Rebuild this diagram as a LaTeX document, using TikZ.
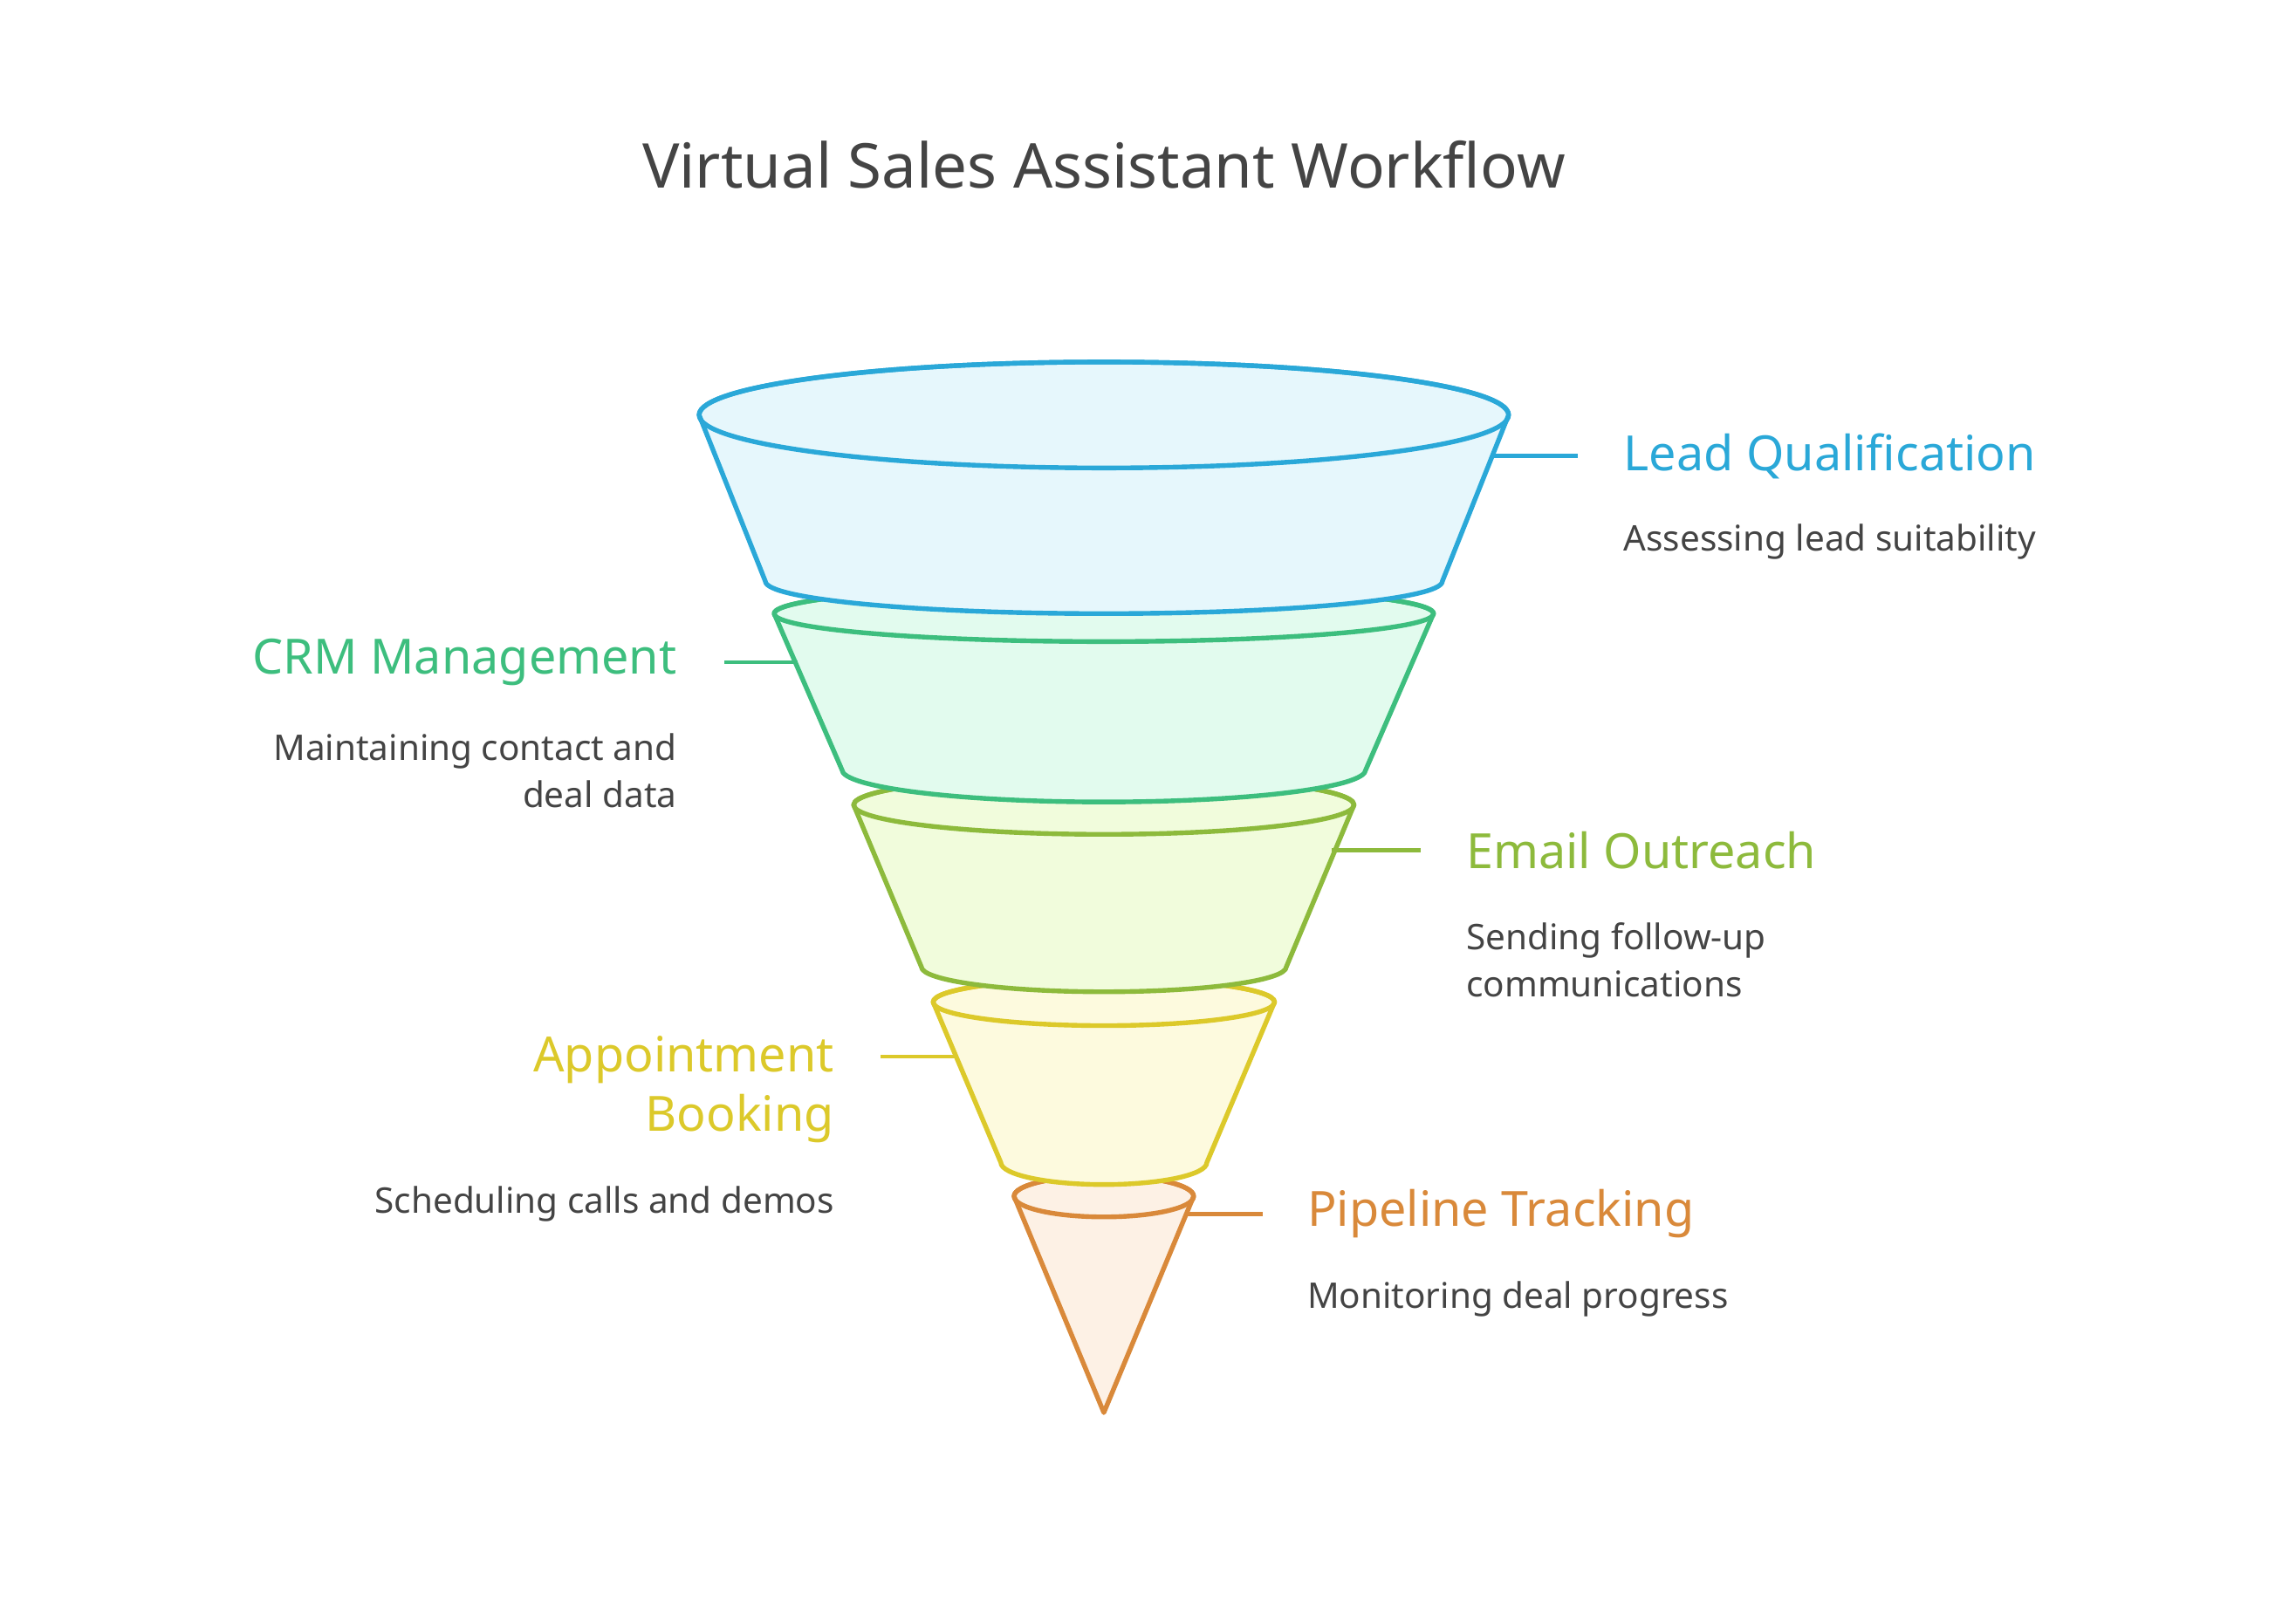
\documentclass[tikz,border=0pt]{standalone}
\usepackage{fontspec}
\setmainfont{Noto Sans}
\definecolor{c1}{HTML}{2AA8D8}\definecolor{f1}{HTML}{E6F7FC}
\definecolor{c2}{HTML}{3DBE7E}\definecolor{f2}{HTML}{E2FBEE}
\definecolor{c3}{HTML}{8DBA3C}\definecolor{f3}{HTML}{F1FCDC}
\definecolor{c4}{HTML}{DCC92A}\definecolor{f4}{HTML}{FDFADE}
\definecolor{c5}{HTML}{D9893A}\definecolor{f5}{HTML}{FDF1E5}
\definecolor{tx}{HTML}{444444}
\begin{document}
\begin{tikzpicture}[x=0.5pt,y=0.5pt,line width=1.6pt,line join=round,
  ttl/.style={font=\fontsize{16.5}{20}\selectfont},
  dsc/.style={font=\fontsize{12}{16}\selectfont,text=tx},
  conn/.style={line width=1.4pt}]
\useasboundingbox[fill=white] (0,0) rectangle (1560,-1088);
\node[font=\fontsize{21}{25}\selectfont\bfseries,text=tx] (title) at (750,-112) {Virtual Sales Assistant Workflow};
% segment 5
\filldraw[draw=c5,fill=f5] (689,-813) -- (750,-960) -- (811,-813) arc[start angle=0,end angle=180,x radius=61,y radius=14] -- cycle;
\draw[c5] (750,-813) ellipse [x radius=61,y radius=14];
% segment 4
\filldraw[draw=c4,fill=f4] (634,-681) -- (680,-790) arc[start angle=180,end angle=360,x radius=70,y radius=15] -- (866,-681) arc[start angle=0,end angle=180,x radius=116,y radius=16] -- cycle;
\draw[c4] (750,-681) ellipse [x radius=116,y radius=16];
% segment 3
\filldraw[draw=c3,fill=f3] (580,-547) -- (626,-657) arc[start angle=180,end angle=360,x radius=124,y radius=17] -- (920,-547) arc[start angle=0,end angle=180,x radius=170,y radius=20] -- cycle;
\draw[c3] (750,-547) ellipse [x radius=170,y radius=20];
% segment 2
\filldraw[draw=c2,fill=f2] (526,-417) -- (572,-523) arc[start angle=180,end angle=360,x radius=178,y radius=22] -- (974,-417) arc[start angle=0,end angle=180,x radius=224,y radius=19] -- cycle;
\draw[c2] (750,-417) ellipse [x radius=224,y radius=19];
% segment 1
\filldraw[draw=c1,fill=f1] (475,-282) -- (520,-395) arc[start angle=180,end angle=360,x radius=230,y radius=22] -- (1025,-282) arc[start angle=0,end angle=180,x radius=275,y radius=36] -- cycle;
\draw[c1] (750,-282) ellipse [x radius=275,y radius=36];
% labels
\coordinate (a1) at (1015,-310); \coordinate (b1) at (1072,-310);
\draw[conn,c1] (a1) -- (b1);
\node[ttl,text=c1,anchor=west] (t1) at (1095,-310) {Lead Qualification};
\node[dsc,anchor=west] (d1) at (1095,-368) {Assessing lead suitability};
\coordinate (a2) at (542,-450); \coordinate (b2) at (492,-450);
\draw[conn,c2] (a2) -- (b2);
\node[ttl,text=c2,anchor=east] (t2) at (468,-450) {CRM Management};
\node[dsc,anchor=north east,align=right] (d2) at (468,-490) {Maintaining contact and\\deal data};
\coordinate (a3) at (905,-578); \coordinate (b3) at (965,-578);
\draw[conn,c3] (a3) -- (b3);
\node[ttl,text=c3,anchor=west] (t3) at (988,-578) {Email Outreach};
\node[dsc,anchor=north west,align=left] (d3) at (988,-619) {Sending follow-up\\communications};
\coordinate (a4) at (650,-718); \coordinate (b4) at (598,-718);
\draw[conn,c4] (a4) -- (b4);
\node[ttl,text=c4,anchor=north east,align=right] (t4) at (575,-696) {Appointment\\Booking};
\node[dsc,anchor=east] (d4) at (575,-818) {Scheduling calls and demos};
\coordinate (a5) at (806,-825); \coordinate (b5) at (858,-825);
\draw[conn,c5] (a5) -- (b5);
\node[ttl,text=c5,anchor=west] (t5) at (880,-825) {Pipeline Tracking};
\node[dsc,anchor=west] (d5) at (880,-883) {Monitoring deal progress};
\end{tikzpicture}
\end{document}
